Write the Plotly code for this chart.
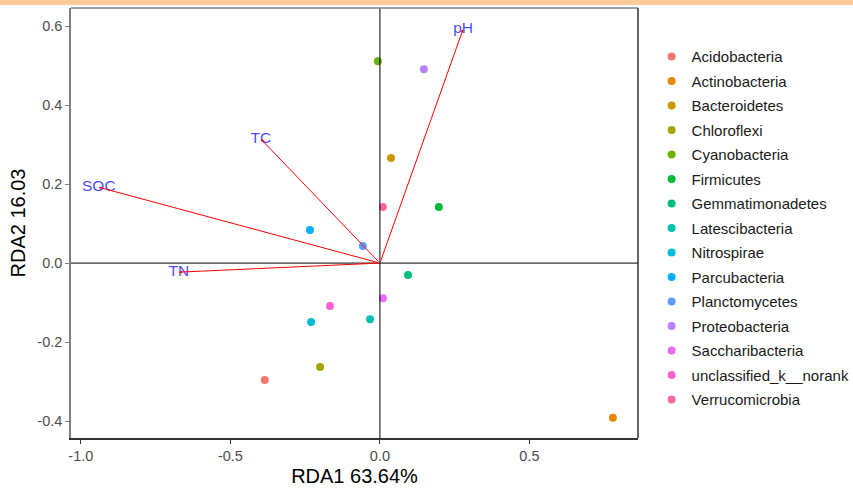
import plotly.graph_objects as go

phyla = ["Acidobacteria", "Actinobacteria", "Bacteroidetes", "Chloroflexi", "Cyanobacteria",
         "Firmicutes", "Gemmatimonadetes", "Latescibacteria", "Nitrospirae", "Parcubacteria",
         "Planctomycetes", "Proteobacteria", "Saccharibacteria", "unclassified_k__norank",
         "Verrucomicrobia"]
rda1 = [-0.385, 0.779, 0.037, -0.200, -0.007, 0.197, 0.094, -0.033, -0.230, -0.234,
        -0.057, 0.147, 0.010, -0.167, 0.010]
rda2 = [-0.296, -0.392, 0.266, -0.263, 0.511, 0.142, -0.030, -0.142, -0.149, 0.084,
        0.043, 0.491, -0.089, -0.109, 0.142]
colors = ["#F8766D", "#E58700", "#C99800", "#A3A500", "#6BB100", "#00BA38", "#00BF7D",
          "#00C0AF", "#00BCD8", "#00B0F6", "#619CFF", "#B983FF", "#E76BF3", "#FD61D1", "#FF67A4"]

env = ["pH", "TC", "SOC", "TN"]
env_x = [0.278, -0.398, -0.940, -0.672]
env_y = [0.592, 0.314, 0.192, -0.023]

fig = go.Figure()

for i, name in enumerate(phyla):
    fig.add_trace(go.Scatter(
        x=[rda1[i]], y=[rda2[i]], mode="markers", name=name,
        legendgroup=name,
        marker=dict(color=colors[i], size=8, line=dict(width=0)),
    ))

for i, name in enumerate(env):
    fig.add_annotation(x=env_x[i], y=env_y[i], ax=0, ay=0, xref="x", yref="y",
                       axref="x", ayref="y", text="", showarrow=True,
                       arrowhead=2, arrowsize=0.6, arrowwidth=1, arrowcolor="#FF0000")

fig.add_trace(go.Scatter(x=env_x, y=env_y, mode="text", text=env, showlegend=False,
                         textposition="middle center",
                         textfont=dict(color="rgba(40,40,255,0.85)", size=15.5,
                                       family="Liberation Sans")))

fig.add_hline(y=0, line=dict(color="black", width=1))
fig.add_vline(x=0, line=dict(color="black", width=1))

# panel border top/right
fig.add_shape(type="line", xref="paper", yref="paper", x0=0, x1=1, y0=1, y1=1,
              line=dict(color="#7F7F7F", width=1.5))
fig.add_shape(type="line", xref="paper", yref="paper", x0=1, x1=1, y0=0, y1=1,
              line=dict(color="#333333", width=1.5))
# top strip
fig.add_shape(type="rect", xref="paper", yref="paper", x0=-0.2, x1=1.4,
              y0=1 + 3 / 430, y1=1 + 9 / 430, fillcolor="#FBCB9A", line=dict(width=0),
              layer="above")

fig.update_layout(
    width=853, height=493,
    margin=dict(l=71, r=215, t=8, b=55, autoexpand=False),
    plot_bgcolor="white", paper_bgcolor="white",
    font=dict(family="Liberation Sans", color="black"),
    showlegend=True,
    legend=dict(x=1.024, y=0.925, xanchor="left", yanchor="top",
                font=dict(size=15, color="#1A1A1A"), tracegroupgap=2,
                itemwidth=30, bgcolor="rgba(0,0,0,0)"),
    xaxis=dict(range=[-1.033, 0.863], tickvals=[-1.0, -0.5, 0.0, 0.5],
               ticktext=["-1.0", "-0.5", "0.0", "0.5"], showgrid=False, zeroline=False,
               showline=True, linecolor="#333333", linewidth=1.5,
               ticks="outside", ticklen=4, tickcolor="#333333",
               tickfont=dict(size=14.5, color="#4D4D4D"),
               title=dict(text="RDA1 63.64%", font=dict(size=20), standoff=6)),
    yaxis=dict(range=[-0.443, 0.646], tickvals=[-0.4, -0.2, 0.0, 0.2, 0.4, 0.6],
               ticktext=["-0.4", "-0.2", "0.0", "0.2", "0.4", "0.6"], showgrid=False,
               zeroline=False, showline=True, linecolor="#7F7F7F", linewidth=1.5,
               ticks="outside", ticklen=4, tickcolor="#7F7F7F",
               tickfont=dict(size=14.5, color="#4D4D4D"),
               title=dict(text="RDA2 16.03", font=dict(size=20), standoff=6)),
)

fig.write_html("out.html", config={"displayModeBar": False},
               post_script="document.body.style.margin='0';")
